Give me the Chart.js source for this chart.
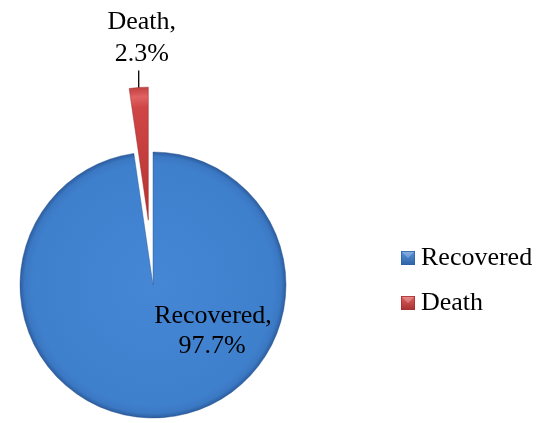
<!DOCTYPE html>
<html>
<head>
<meta charset="utf-8">
<script src="https://cdn.jsdelivr.net/npm/chart.js@4.4.0/dist/chart.umd.min.js"></script>
<style>
html,body{margin:0;padding:0;background:#fff;}
#wrap{position:relative;width:553px;height:423px;}
canvas{display:block;}
</style>
</head>
<body>
<div id="wrap"><canvas id="c" width="553" height="423"></canvas></div>
<script>
const categories = ["Recovered", "Death"];
const values = [97.7, 2.3];
const valueLabels = ["97.7%", "2.3%"];
const explodeOffsets = [0, 65];

const FONT = "26px 'Liberation Serif', 'Times New Roman', serif";
const PIE_RADIUS = 133;

function sliceFill(sc) {
  const chart = sc.chart;
  const area = chart.chartArea;
  const i = sc.dataIndex;
  if (!area) return i === 0 ? '#3f7fcc' : '#cc4444';
  const cx = (area.left + area.right) / 2;
  const cy = (area.top + area.bottom) / 2;
  const g = chart.ctx.createRadialGradient(cx, cy, 0, cx, cy, PIE_RADIUS);
  if (i === 0) {
    g.addColorStop(0, '#4587d5');
    g.addColorStop(0.9, '#3f80cd');
    g.addColorStop(0.965, '#3b78c3');
    g.addColorStop(1, '#2c5d9f');
  } else {
    g.addColorStop(0, '#b83232');
    g.addColorStop(0.85, '#cf4646');
    g.addColorStop(0.93, '#e06262');
    g.addColorStop(1, '#c24040');
  }
  return g;
}

const explodePlugin = {
  id: 'explode',
  afterDatasetUpdate(chart, args) {
    const meta = chart.getDatasetMeta(args.index);
    meta.data.forEach((el, i) => {
      const off = explodeOffsets[i] || 0;
      if (!off || el._exploded) return;
      const proto = Object.getPrototypeOf(el);
      el._exploded = true;
      el.draw = function (ctx) {
        const mid = (this.startAngle + this.endAngle) / 2;
        ctx.save();
        ctx.translate(Math.cos(mid) * off, Math.sin(mid) * off);
        proto.draw.call(this, ctx);
        ctx.restore();
      };
    });
  }
};

const labelPlugin = {
  id: 'labels',
  afterDatasetsDraw(chart) {
    const ctx = chart.ctx;
    const meta = chart.getDatasetMeta(0);
    ctx.save();
    ctx.font = FONT;
    ctx.fillStyle = '#000';
    ctx.textAlign = 'center';
    ctx.textBaseline = 'alphabetic';
    const d = meta.data[1];
    const midD = (d.startAngle + d.endAngle) / 2;
    const rr = d.outerRadius + explodeOffsets[1];
    const ax = d.x + Math.cos(midD) * rr;
    const ay = d.y + Math.sin(midD) * rr;
    ctx.strokeStyle = '#000';
    ctx.lineWidth = 1.3;
    ctx.beginPath();
    ctx.moveTo(ax, ay);
    ctx.lineTo(ax, ay - 17);
    ctx.stroke();
    ctx.fillText(categories[1] + ',', ax + 3, ay - 59);
    ctx.fillText(valueLabels[1], ax + 3, ay - 27);
    const r0 = meta.data[0];
    ctx.fillText(categories[0] + ',', r0.x + 60, r0.y + 38);
    ctx.fillText(valueLabels[0], r0.x + 59, r0.y + 68);
    const lx = 401, ly = [251, 296];
    const cols = [['#5b93d8', '#2f63a8'], ['#e06262', '#a83030']];
    categories.forEach((cat, i) => {
      const y = ly[i];
      const g = ctx.createLinearGradient(lx, y, lx, y + 14);
      g.addColorStop(0, cols[i][0]);
      g.addColorStop(1, cols[i][1]);
      ctx.fillStyle = g;
      ctx.fillRect(lx, y, 14, 14);
      ctx.fillStyle = 'rgba(255,255,255,0.25)';
      ctx.beginPath();
      ctx.moveTo(lx, y); ctx.lineTo(lx + 14, y); ctx.lineTo(lx + 7, y + 7); ctx.closePath();
      ctx.fill();
      ctx.strokeStyle = cols[i][1];
      ctx.lineWidth = 0.8;
      ctx.strokeRect(lx + 0.4, y + 0.4, 13.2, 13.2);
      ctx.fillStyle = '#000';
      ctx.textAlign = 'left';
      ctx.fillText(cat, lx + 20, y + 14);
    });
    ctx.restore();
  }
};

new Chart(document.getElementById('c'), {
  type: 'pie',
  data: {
    labels: categories,
    datasets: [{
      data: values,
      backgroundColor: sliceFill,
      borderColor: ['rgba(40,80,140,0.55)', 'rgba(150,40,40,0.6)'],
      borderWidth: 0.8,
      clip: false
    }]
  },
  options: {
    responsive: false,
    animation: false,
    radius: PIE_RADIUS,
    rotation: 0,
    layout: { padding: { left: 0, right: 247, top: 152, bottom: 5 } },
    plugins: {
      legend: { display: false },
      tooltip: { enabled: false }
    }
  },
  plugins: [explodePlugin, labelPlugin]
});
</script>
</body>
</html>
